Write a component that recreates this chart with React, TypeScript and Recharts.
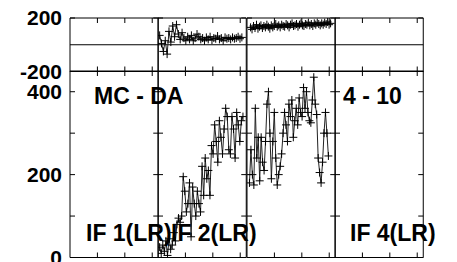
import React from 'react';
import { LineChart, Line, XAxis, YAxis, ReferenceLine } from 'recharts';

// ---- data ----
const X_MAX = 3.22;
const X_TICKS = [1, 2, 3];

const TOP_Y_DOMAIN = [-200, 200];
const TOP_Y_TICKS = [-200, 200];
const TOP_Y_LABELS = [-200, 200];

const MAIN_Y_DOMAIN = [0, 450];
const MAIN_Y_TICKS = [0, 100, 200, 300, 400];
const MAIN_Y_LABELS = [0, 200, 400];

// panel 2 (main): x range and values
const P2_MAIN_X = [0.06, 3.1];
const P2_MAIN = [25, 10, 30, 15, 40, 5, 45, 20, 30, 60, 40, 80, 95, 85, 100, 195, 160, 110, 130, 180, 50, 170, 130, 100, 160, 130, 110, 220, 150, 240, 190, 210, 150, 270, 250, 320, 280, 230, 330, 290, 250, 310, 360, 340, 260, 250, 340, 310, 240, 350, 320, 280, 330, 340];

// panel 3 (main)
const P3_MAIN_X = [0.09, 2.97];
const P3_MAIN = [180, 260, 200, 175, 360, 240, 290, 185, 290, 230, 210, 280, 370, 400, 300, 190, 280, 350, 240, 175, 200, 220, 250, 300, 350, 320, 280, 370, 340, 380, 290, 330, 360, 320, 385, 350, 340, 410, 360, 400, 350, 330, 325, 380, 435, 370, 345, 240, 205, 180, 230, 300, 350, 300, 245];

// panel 2 (top strip)
const P2_TOP_X = [0.06, 3.06];
const P2_TOP = [70, 10, -50, 30, -70, 100, 20, 140, 60, 150, 80, 40, 90, 50, 30, 60, 40, 70, 30, 50, 80, 60, 40, 50, 30, 55, 40, 60, 35, 50, 45, 65, 40, 50, 30, 55, 45, 50, 40, 55, 45, 50, 60, 45, 55];

// panel 3 (top strip)
const P3_TOP_X = [0.13, 3.05];
const P3_TOP = [130, 115, 140, 125, 150, 120, 135, 145, 125, 140, 130, 150, 135, 120, 145, 130, 140, 155, 135, 145, 130, 150, 140, 135, 155, 145, 130, 150, 160, 140, 145, 155, 135, 150, 160, 145, 140, 155, 150, 165, 145, 155, 140, 160, 150, 165, 155, 145, 160, 150, 165, 155, 170, 150, 160];

const TITLES = ['MC - DA', '', '', '4 - 10'];
const BOTTOM_LABELS = ['IF 1(LR)', 'IF 2(LR)', '', 'IF 4(LR)'];

// ---- layout ----
const PANEL_LEFT0 = 70;
const PANEL_W = 88.25;
const TOP_Y = 17.5;
const TOP_H = 53.5;
const MAIN_Y = 71;
const MAIN_H = 186.5;
const FONT = '"Liberation Sans", Arial, Helvetica, sans-serif';

function toRows(range: number[], values: number[]) {
  const n = values.length;
  return values.map((v, i) => ({ x: range[0] + ((range[1] - range[0]) * i) / (n - 1), y: v }));
}

const PlusDot = (props: any) => {
  const { cx, cy, index } = props;
  if (cx == null || cy == null) return <g key={index} />;
  return (
    <path
      key={index}
      d={`M${cx - 4},${cy}H${cx + 4}M${cx},${cy - 4}V${cy + 4}`}
      stroke="#000"
      strokeWidth={1}
      fill="none"
    />
  );
};

const NoLabel = () => <g />;

type PanelProps = {
  left: number;
  top: number;
  width: number;
  height: number;
  yDomain: number[];
  yTicks: number[];
  labels?: number[];
  rows: { x: number; y: number }[];
  zero?: boolean;
};

function Panel({ left, top, width, height, yDomain, yTicks, labels, rows, zero }: PanelProps) {
  const m = 10;
  const ml = labels ? 0 : m;
  const labW = labels ? left : 0;
  const chartLeft = labels ? 0 : left - m;
  const chartW = width + ml + m + labW;
  const chartH = height + 2 * m;
  const axisStyle = { stroke: '#000', strokeWidth: 1 };
  return (
    <div style={{ position: 'absolute', left: chartLeft, top: top - m }}>
      <LineChart width={chartW} height={chartH} data={rows} margin={{ top: m, right: m, bottom: m, left: ml }}>
        <XAxis xAxisId="b" dataKey="x" type="number" domain={[0, X_MAX]} ticks={X_TICKS} orientation="bottom" mirror tick={NoLabel} tickSize={5} axisLine={axisStyle} tickLine={axisStyle} interval={0} allowDataOverflow />
        <XAxis xAxisId="t" dataKey="x" type="number" domain={[0, X_MAX]} ticks={X_TICKS} orientation="top" mirror tick={NoLabel} tickSize={5} axisLine={axisStyle} tickLine={axisStyle} interval={0} allowDataOverflow />
        {labels && (
          <YAxis yAxisId="lab" type="number" domain={yDomain} ticks={labels} orientation="left" width={labW} tickLine={false} axisLine={false} interval={0} allowDataOverflow
            tick={{ fill: '#000', fontSize: 21, fontWeight: 'bold', fontFamily: FONT }} />
        )}
        <YAxis yAxisId="l" type="number" domain={yDomain} ticks={yTicks} orientation="left" mirror tick={NoLabel} tickSize={5} axisLine={axisStyle} tickLine={axisStyle} interval={0} allowDataOverflow />
        <YAxis yAxisId="r" type="number" domain={yDomain} ticks={yTicks} orientation="right" mirror tick={NoLabel} tickSize={5} axisLine={axisStyle} tickLine={axisStyle} interval={0} allowDataOverflow />
        {zero && <ReferenceLine xAxisId="b" yAxisId="l" y={0} stroke="#000" strokeWidth={1} />}
        {rows.length > 0 && (
          <Line xAxisId="b" yAxisId="l" dataKey="y" type="linear" stroke="#222" strokeWidth={1} dot={PlusDot} activeDot={false} isAnimationActive={false} />
        )}
      </LineChart>
    </div>
  );
}

export default function App() {
  const topRows = [[], toRows(P2_TOP_X, P2_TOP), toRows(P3_TOP_X, P3_TOP), []];
  const mainRows = [[], toRows(P2_MAIN_X, P2_MAIN), toRows(P3_MAIN_X, P3_MAIN), []];
  const lefts = [0, 1, 2, 3].map((i) => PANEL_LEFT0 + i * PANEL_W);
  const titleX = [94, 0, 0, 343];
  const labelX = [86, 171, 0, 350];
  return (
    <div style={{ position: 'absolute', left: 0, top: 0, width: 457, height: 262, overflow: 'hidden', background: '#fff' }}>
      {lefts.map((l, i) => (
        <Panel key={'t' + i} left={l} top={TOP_Y} width={PANEL_W} height={TOP_H} yDomain={TOP_Y_DOMAIN} yTicks={TOP_Y_TICKS}
          labels={i === 0 ? TOP_Y_LABELS : undefined} rows={topRows[i]} zero />
      ))}
      {lefts.map((l, i) => (
        <Panel key={'m' + i} left={l} top={MAIN_Y} width={PANEL_W} height={MAIN_H} yDomain={MAIN_Y_DOMAIN} yTicks={MAIN_Y_TICKS}
          labels={i === 0 ? MAIN_Y_LABELS : undefined} rows={mainRows[i]} />
      ))}
      <svg width={457} height={262} style={{ position: 'absolute', left: 0, top: 0, pointerEvents: 'none' }}>
        {TITLES.map((t, i) => t ? (
          <text key={'ti' + i} x={titleX[i]} y={104} fontFamily={FONT} fontWeight="bold" fontSize={23} fill="#000">{t}</text>
        ) : null)}
        {BOTTOM_LABELS.map((t, i) => t ? (
          <text key={'bl' + i} x={labelX[i]} y={241} fontFamily={FONT} fontWeight="bold" fontSize={23} fill="#000">{t}</text>
        ) : null)}
      </svg>
    </div>
  );
}
